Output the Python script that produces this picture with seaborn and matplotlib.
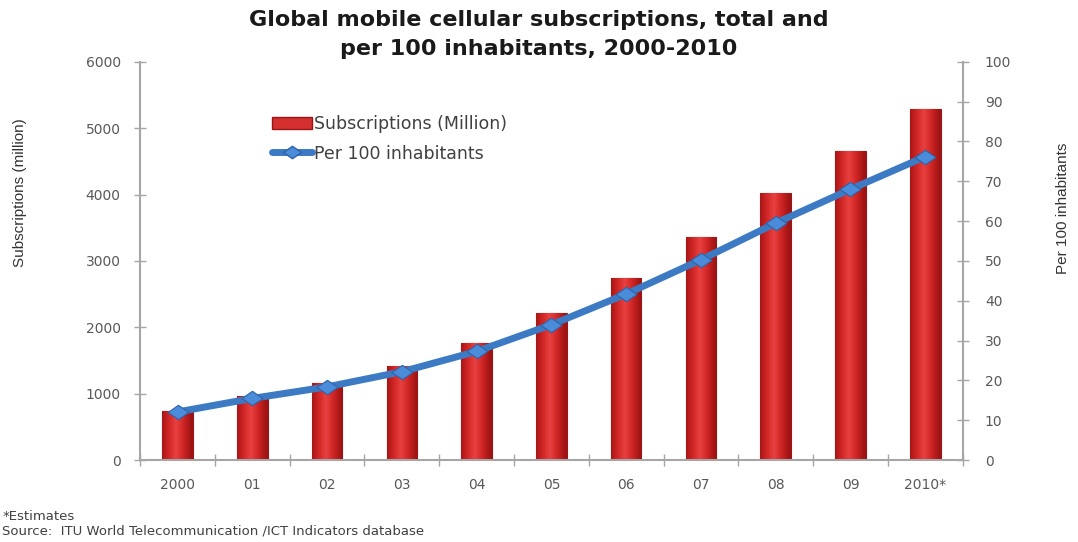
import numpy as np
import matplotlib
matplotlib.use("Agg")
import matplotlib.pyplot as plt
import seaborn as sns
from matplotlib.lines import Line2D
from matplotlib.patches import Patch
from matplotlib.path import Path
from matplotlib.colors import LinearSegmentedColormap

years = ["2000", "01", "02", "03", "04", "05", "06", "07", "08", "09", "2010*"]
subscriptions = [738, 961, 1157, 1417, 1763, 2219, 2749, 3368, 4030, 4660, 5282]
per100 = [12.1, 15.5, 18.4, 22.2, 27.3, 34.0, 41.7, 50.3, 59.5, 68.0, 76.2]
left_ticks = [0, 1000, 2000, 3000, 4000, 5000, 6000]
right_ticks = [0, 10, 20, 30, 40, 50, 60, 70, 80, 90, 100]

sns.set_theme(style="white")
plt.rcParams['font.family'] = ['DejaVu Sans']

fig = plt.figure(figsize=(10.78, 5.42), dpi=100)
ax = fig.add_axes([0.130, 0.151, 0.763, 0.735])

BAR_RED = "#D32F2F"
sns.barplot(x=years, y=subscriptions, ax=ax, color=BAR_RED, width=0.41,
            edgecolor="#9A1616", linewidth=0.8, saturation=1)

# gradient shading for bars
grad = np.linspace(0, 1, 64)
shade = 1 - np.abs(grad - 0.45) * 2
cmap = LinearSegmentedColormap.from_list("bar", ["#9E1414", "#CF2424", "#E84040"])
for p in ax.patches:
    x0, y0 = p.get_x(), p.get_y()
    w, h = p.get_width(), p.get_height()
    im = ax.imshow(shade[np.newaxis, :], extent=[x0, x0 + w, y0, y0 + h],
                   cmap=cmap, vmin=0.0, vmax=1, aspect="auto", zorder=p.get_zorder() + 0.1)
    im.set_clip_path(p)
ax.set_xlim(-0.5, len(years) - 0.5)
ax.set_ylim(0, 6000)
ax.set_yticks(left_ticks)

ax2 = ax.twinx()
LINE_BLUE = "#3C7AC4"
diamond = Path([(-1.45, 0), (0, 1), (1.45, 0), (0, -1), (-1.45, 0)],
               [Path.MOVETO, Path.LINETO, Path.LINETO, Path.LINETO, Path.CLOSEPOLY])
sns.pointplot(x=years, y=per100, ax=ax2, color=LINE_BLUE, markers="D",
              markersize=10, linewidth=5, markeredgecolor="#2D64A8",
              markeredgewidth=0.8, markerfacecolor="#4A8BDA")
for ln in ax2.lines:
    ln.set_marker(diamond)
    ln.set_markersize(15)
ax2.set_ylim(0, 100)
ax2.set_yticks(right_ticks)
ax2.set_xlim(-0.5, len(years) - 0.5)

GRAY = "#A6A6A6"
TICKC = "#595959"
for a in (ax, ax2):
    for s in a.spines.values():
        s.set_visible(False)
    a.grid(False)
    a.set_xlabel("")
    a.set_ylabel("")
ax.spines["left"].set_visible(True)
ax.spines["bottom"].set_visible(True)
ax2.spines["right"].set_visible(True)
for s in (ax.spines["left"], ax.spines["bottom"], ax2.spines["right"]):
    s.set_color(GRAY)
    s.set_linewidth(1.5)

ax.tick_params(axis="y", which="major", direction="inout", length=8, width=1,
               color=GRAY, labelcolor=TICKC, labelsize=10, pad=10, left=True)
ax2.tick_params(axis="y", which="major", direction="inout", length=8, width=1,
                color=GRAY, labelcolor=TICKC, labelsize=10, pad=12, right=True)
# x: tick marks at category boundaries, labels at centers
ax.set_xticks(np.arange(len(years) + 1) - 0.5)
ax.set_xticklabels([])
ax.set_xticks(np.arange(len(years)), minor=True)
ax.set_xticklabels(years, minor=True)
ax.tick_params(axis="x", which="major", direction="inout", length=8, width=1,
               color=GRAY, bottom=True)
ax.tick_params(axis="x", which="minor", length=0, labelcolor=TICKC,
               labelsize=10, pad=13, bottom=True)
ax2.tick_params(axis="x", which="both", length=0, labelbottom=False)

fig.text(0.019, 0.645, "Subscriptions (million)", rotation=90, ha="center", va="center",
         fontsize=11, color="#333333", family=["Liberation Sans Narrow", "Liberation Sans", "DejaVu Sans"])
fig.text(0.986, 0.616, "Per 100 inhabitants", rotation=90, ha="center", va="center",
         fontsize=11, color="#333333", family=["Liberation Sans Narrow", "Liberation Sans", "DejaVu Sans"])

fig.text(0.50, 0.982, "Global mobile cellular subscriptions, total and\nper 100 inhabitants, 2000-2010",
         ha="center", va="top", fontsize=16, fontweight="bold", color="#1A1A1A",
         family=["DejaVu Sans"], linespacing=1.55)

handles = [Patch(facecolor=BAR_RED, edgecolor="#9A1616"),
           Line2D([0], [0], color=LINE_BLUE, lw=5, marker=diamond, markersize=13,
                  markerfacecolor="#4A8BDA", markeredgecolor="#2D64A8")]
leg = ax.legend(handles, ["Subscriptions (Million)", "Per 100 inhabitants"],
                loc="upper left", bbox_to_anchor=(0.141, 0.905), frameon=False,
                handlelength=2.3, handletextpad=0.15, labelspacing=0.65,
                prop={"family": ["DejaVu Sans"], "size": 12.5})
for t in leg.get_texts():
    t.set_color("#404040")

fig.text(0.002, 0.040, "*Estimates", fontsize=9.5, color="#404040",
         family=["DejaVu Sans"])
fig.text(0.002, 0.014, "Source:  ITU World Telecommunication /ICT Indicators database",
         fontsize=9.5, color="#404040", family=["DejaVu Sans"])

fig.savefig("out.png", dpi=100)
